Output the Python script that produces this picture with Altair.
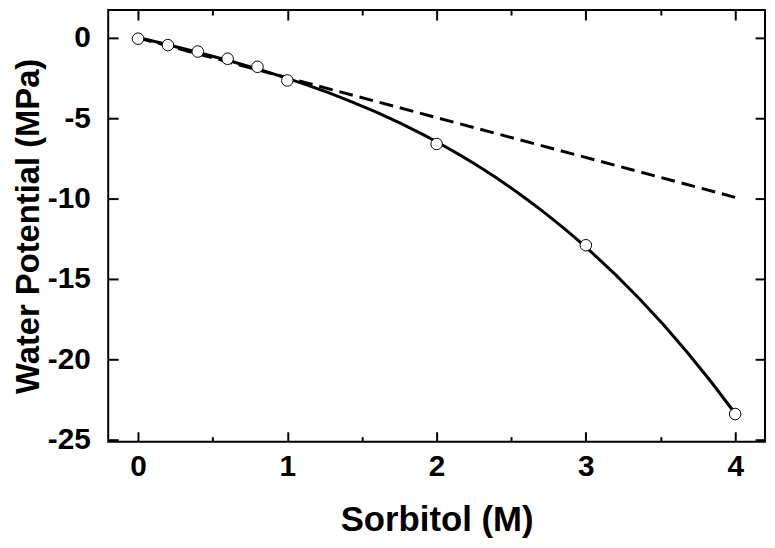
import altair as alt
import pandas as pd

# ---- data ----
sorbitol = [0.0, 0.2, 0.4, 0.6, 0.8, 1.0, 2.0, 3.0, 4.0]
potential = [-0.05, -0.45, -0.85, -1.3, -1.8, -2.65, -6.6, -12.9, -23.4]
ideal_x = [0.0, 4.0]
ideal_y = [0.0, -9.92]
x_major = [0, 1, 2, 3, 4]
x_minor = [0.5, 1.5, 2.5, 3.5]
y_major = [0, -5, -10, -15, -20, -25]

W, H = 662, 435
FONT = "Liberation Sans"

pts = pd.DataFrame({"x": sorbitol, "y": potential})
ideal = pd.DataFrame({"x": ideal_x, "y": ideal_y})

xs = alt.Scale(domain=[-0.2, 4.2], nice=False, zero=False)
ys = alt.Scale(domain=[-25.12, 1.73], nice=False, zero=False)


def tick_axis(orient, values, size, offset):
    return alt.Axis(orient=orient, values=values, tickSize=size, offset=offset,
                    labels=False, domain=False, grid=False, title=None,
                    tickColor="black", tickWidth=2)


# main fitted curve with labelled axes
fit = alt.Chart(pts).transform_regression(
    "x", "y", method="poly", order=3, extent=[0, 4]
).mark_line(color="black", strokeWidth=3).encode(
    x=alt.X("x:Q", scale=xs, axis=alt.Axis(
        orient="bottom", values=x_major, ticks=False, domain=False, grid=False,
        labelPadding=10, labelFont=FONT, labelFontSize=30, labelFontWeight="bold",
        labelColor="black", title="Sorbitol (M)", titleFont=FONT, titleFontSize=35,
        titleFontWeight="bold", titleColor="black", titlePadding=22)),
    y=alt.Y("y:Q", scale=ys, axis=alt.Axis(
        orient="left", values=y_major, ticks=False, domain=False, grid=False,
        labelPadding=18, labelFont=FONT, labelFontSize=30, labelFontWeight="bold",
        labelColor="black", labelExpr="datum.value + ''",
        title="Water Potential (MPa)", titleFont=FONT, titleFontSize=33,
        titleFontWeight="bold", titleColor="black", titlePadding=2)),
)

dashed = alt.Chart(ideal).mark_line(color="black", strokeWidth=3, strokeDash=[14, 7]).encode(
    x=alt.X("x:Q", scale=xs, axis=tick_axis("top", x_major, 10, -H)),
    y=alt.Y("y:Q", scale=ys, axis=tick_axis("right", y_major, 10, -W)),
)

points = alt.Chart(pts).mark_point(
    shape="circle", filled=True, fill="white", stroke="black", strokeWidth=1,
    size=135, opacity=1
).encode(
    x=alt.X("x:Q", scale=xs, axis=tick_axis("top", x_minor, 5, -H)),
    y=alt.Y("y:Q", scale=ys, axis=tick_axis("left", y_major, 10, -W)),
)

ghost1 = alt.Chart(pts).mark_point(opacity=0).encode(
    x=alt.X("x:Q", scale=xs, axis=tick_axis("bottom", x_major, 10, -H)),
    y=alt.Y("y:Q", scale=ys, axis=None),
)
ghost2 = alt.Chart(pts).mark_point(opacity=0).encode(
    x=alt.X("x:Q", scale=xs, axis=tick_axis("bottom", x_minor, 5, -H)),
    y=alt.Y("y:Q", scale=ys, axis=None),
)

chart = alt.layer(ghost1, ghost2, fit, dashed, points).resolve_axis(
    x="independent", y="independent"
).properties(
    width=W, height=H,
    background="white",
    autosize=alt.AutoSizeParams(type="none"),
    padding={"left": 101, "top": 0, "right": 2, "bottom": 95},
).configure_view(
    stroke="black", strokeWidth=2
)

chart.save("out.html", embed_options={"renderer": "svg", "actions": False})
